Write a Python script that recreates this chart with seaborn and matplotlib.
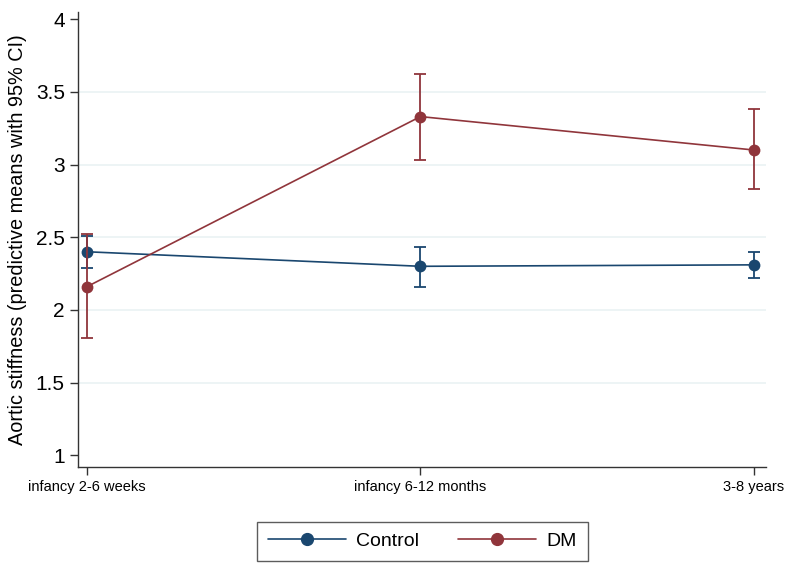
import matplotlib
matplotlib.use("Agg")
import matplotlib.pyplot as plt
import seaborn as sns
import pandas as pd
import numpy as np
from matplotlib.lines import Line2D

categories = ["infancy 2-6 weeks", "infancy 6-12 months", "3-8 years"]
groups = ["Control", "DM"]
control_mean = [2.40, 2.30, 2.31]
control_lo = [2.29, 2.16, 2.22]
control_hi = [2.51, 2.43, 2.40]
dm_mean = [2.16, 3.33, 3.10]
dm_lo = [1.81, 3.03, 2.83]
dm_hi = [2.52, 3.62, 3.38]
y_ticks = [1, 1.5, 2, 2.5, 3, 3.5, 4]
y_tick_labels = ["1", "1.5", "2", "2.5", "3", "3.5", "4"]
colors = {"Control": "#1a476f", "DM": "#90353b"}

sns.set_theme(style="white")
plt.rcParams["font.family"] = ["Liberation Sans", "DejaVu Sans"]
plt.rcParams["text.color"] = "black"

rows = []
for g, m, lo, hi in [("Control", control_mean, control_lo, control_hi),
                     ("DM", dm_mean, dm_lo, dm_hi)]:
    for i, c in enumerate(categories):
        rows.append({"group": g, "x": i, "cat": c, "mean": m[i], "lo": lo[i], "hi": hi[i]})
df = pd.DataFrame(rows)

fig = plt.figure(figsize=(7.88, 5.68), dpi=100)
ax = fig.add_axes([0.099, 0.178, 0.873, 0.801])

for yv in [1.5, 2, 2.5, 3, 3.5]:
    ax.axhline(yv, color="#eaf2f3", lw=1.2, zorder=0)

sns.lineplot(data=df, x="x", y="mean", hue="group", hue_order=groups,
             palette=colors, marker="o", markersize=8.5, markeredgewidth=0,
             linewidth=1.2, ax=ax, legend=False, zorder=3)
for g in groups:
    sub = df[df.group == g]
    ax.errorbar(sub["x"], sub["mean"],
                yerr=[sub["mean"] - sub["lo"], sub["hi"] - sub["mean"]],
                fmt="none", ecolor=colors[g], elinewidth=1.3, capsize=4,
                capthick=1.3, zorder=3)

ax.set_xlim(-0.027, 2.036)
ax.set_ylim(0.92, 4.05)
ax.set_xticks([0, 1, 2])
ax.set_xticklabels(categories, fontsize=10.5, color="black")
ax.set_yticks(y_ticks)
ax.set_yticklabels(y_tick_labels, fontsize=15, color="black")
ax.set_xlabel("")
ax.set_ylabel("Aortic stiffness (predictive means with 95% CI)", fontsize=14.3, color="black",
              labelpad=6)
ax.tick_params(axis="both", direction="out", length=6, width=1, color="#333333",
               bottom=True, left=True)
for s in ["top", "right"]:
    ax.spines[s].set_visible(False)
for s in ["left", "bottom"]:
    ax.spines[s].set_color("#333333")
    ax.spines[s].set_linewidth(1)

handles = [Line2D([0], [0], color=colors[g], marker="o", markersize=8.5, lw=1.2) for g in groups]
leg = fig.legend(handles, groups, loc="center", bbox_to_anchor=(0.536, 0.0467),
                 ncol=2, frameon=True, fontsize=14, handlelength=4.0,
                 columnspacing=2.0, fancybox=False, edgecolor="#333333",
                 borderpad=0.55, handletextpad=0.55)
leg.get_frame().set_linewidth(1)

fig.savefig("out.png", dpi=100)
